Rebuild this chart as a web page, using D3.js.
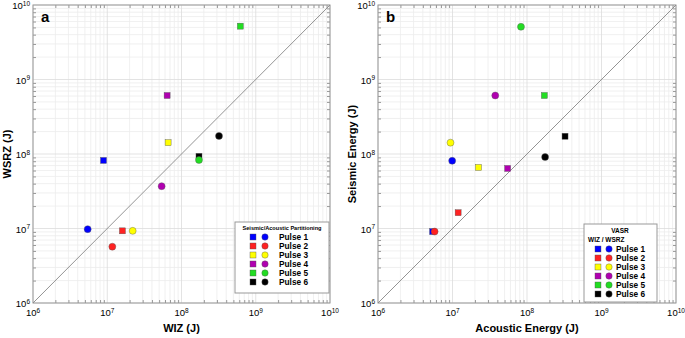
<!DOCTYPE html>
<html>
<head>
<meta charset="utf-8">
<script src="https://cdn.jsdelivr.net/npm/d3@7"></script>
<style>
  body { margin: 0; background: #fff; }
  text { font-family: Arial, "Liberation Sans", sans-serif; }
</style>
</head>
<body>
<div id="root"></div>
<script>
// data
const pulses = ["Pulse 1", "Pulse 2", "Pulse 3", "Pulse 4", "Pulse 5", "Pulse 6"];
const colors = ["#0000ff", "#ff2222", "#ffff00", "#b000b0", "#22dd22", "#000000"];
const tickValues = [1e6, 1e7, 1e8, 1e9, 1e10];

// panel a: squares / circles  (WIZ, WSRZ)
const aSquareX = [8.9e6, 1.6e7, 6.6e7, 6.4e7, 6.2e8, 1.72e8];
const aSquareY = [8.2e7, 9.3e6, 1.42e8, 6.1e8, 5.2e9, 9.3e7];
const aCircleX = [5.45e6, 1.17e7, 2.2e7, 5.4e7, 1.72e8, 3.2e8];
const aCircleY = [9.8e6, 5.7e6, 9.3e6, 3.7e7, 8.3e7, 1.75e8];

// panel b: squares / circles  (acoustic, seismic)
const bSquareX = [5.4e6, 1.19e7, 2.23e7, 5.5e7, 1.71e8, 3.24e8];
const bSquareY = [9.1e6, 1.63e7, 6.6e7, 6.4e7, 6.1e8, 1.73e8];
const bCircleX = [9.9e6, 5.75e6, 9.4e6, 3.75e7, 8.3e7, 1.75e8];
const bCircleY = [8.1e7, 9.1e6, 1.42e8, 6.1e8, 5.1e9, 9.1e7];

let svg = d3.select("#root").append("svg")
  .attr("width", 685).attr("height", 338);

let sup = (sel, v) => {
  let e = Math.round(Math.log10(v));
  sel.append("tspan").text("10");
  sel.append("tspan").attr("font-size", 6.5).attr("dy", -3.5).text(e);
};

let drawPanel = (cfg) => {
  let x = d3.scaleLog().domain([1e6, 1e10]).range([cfg.left, cfg.right]);
  let y = d3.scaleLog().domain([1e6, 1e10]).range([cfg.bottom, cfg.top]);
  let g = svg.append("g");

  // grid
  let minor = [];
  for (let d = 6; d < 10; d++) for (let k = 2; k <= 9; k++) minor.push(k * Math.pow(10, d));
  g.selectAll(".gx").data(minor).join("line")
    .attr("x1", d => x(d)).attr("x2", d => x(d))
    .attr("y1", cfg.top).attr("y2", cfg.bottom)
    .attr("stroke", "#ececec").attr("stroke-width", 0.8);
  g.selectAll(".gy").data(minor).join("line")
    .attr("y1", d => y(d)).attr("y2", d => y(d))
    .attr("x1", cfg.left).attr("x2", cfg.right)
    .attr("stroke", "#ececec").attr("stroke-width", 0.8);
  g.selectAll(".Gx").data(tickValues).join("line")
    .attr("x1", d => x(d)).attr("x2", d => x(d))
    .attr("y1", cfg.top).attr("y2", cfg.bottom)
    .attr("stroke", "#dcdcdc").attr("stroke-width", 0.8);
  g.selectAll(".Gy").data(tickValues).join("line")
    .attr("y1", d => y(d)).attr("y2", d => y(d))
    .attr("x1", cfg.left).attr("x2", cfg.right)
    .attr("stroke", "#dcdcdc").attr("stroke-width", 0.8);

  // axes with inward ticks
  let axB = d3.axisBottom(x).tickValues(minor).tickSize(-3).tickFormat("");
  let axL = d3.axisLeft(y).tickValues(minor).tickSize(-3).tickFormat("");
  let axT = d3.axisTop(x).tickValues(minor).tickSize(-3).tickFormat("");
  let axR = d3.axisRight(y).tickValues(minor).tickSize(-3).tickFormat("");
  let gb = g.append("g").attr("transform", `translate(0,${cfg.bottom})`).call(axB);
  let gl = g.append("g").attr("transform", `translate(${cfg.left},0)`).call(axL);
  let gt = g.append("g").attr("transform", `translate(0,${cfg.top})`).call(axT);
  let gr = g.append("g").attr("transform", `translate(${cfg.right},0)`).call(axR);
  [gb, gl, gt, gr].forEach(a => {
    a.selectAll("path").remove();
    a.selectAll("line").attr("stroke", "#999");
  });
  g.append("rect")
    .attr("x", cfg.left).attr("y", cfg.top)
    .attr("width", cfg.right - cfg.left).attr("height", cfg.bottom - cfg.top)
    .attr("fill", "none").attr("stroke", "#999").attr("stroke-width", 1);

  // tick labels
  tickValues.forEach(v => {
    let t = g.append("text").attr("x", x(v)).attr("y", cfg.bottom + 13)
      .attr("text-anchor", "middle").attr("font-size", 9.5);
    sup(t, v);
    let t2 = g.append("text").attr("x", cfg.left - 3).attr("y", y(v) + 4)
      .attr("text-anchor", "end").attr("font-size", 9.5);
    sup(t2, v);
  });

  // 1:1 line
  g.append("line")
    .attr("x1", x(1e6)).attr("y1", y(1e6))
    .attr("x2", x(1e10)).attr("y2", y(1e10))
    .attr("stroke", "#888").attr("stroke-width", 0.9);

  // axis labels
  g.append("text").attr("x", (cfg.left + cfg.right) / 2).attr("y", cfg.bottom + 29)
    .attr("text-anchor", "middle").attr("font-size", 11).attr("font-weight", "bold")
    .text(cfg.xLabel);
  g.append("text")
    .attr("transform", `translate(${cfg.left - 22},${(cfg.top + cfg.bottom) / 2}) rotate(-90)`)
    .attr("text-anchor", "middle").attr("font-size", 11).attr("font-weight", "bold")
    .text(cfg.yLabel);
  g.append("text").attr("x", cfg.left + 8).attr("y", cfg.top + 17)
    .attr("font-size", 15).attr("font-weight", "bold").text(cfg.letter);

  // markers
  let sq = pulses.map((p, i) => ({ x: cfg.sx[i], y: cfg.sy[i], c: colors[i] }));
  let ci = pulses.map((p, i) => ({ x: cfg.cx[i], y: cfg.cy[i], c: colors[i] }));
  g.selectAll(".sq").data(sq).join("rect")
    .attr("x", d => x(d.x) - 3).attr("y", d => y(d.y) - 3)
    .attr("width", 6).attr("height", 6)
    .attr("fill", d => d.c).attr("stroke", "#555").attr("stroke-width", 0.4);
  g.selectAll(".ci").data(ci).join("circle")
    .attr("cx", d => x(d.x)).attr("cy", d => y(d.y)).attr("r", 3.5)
    .attr("fill", d => d.c).attr("stroke", "#555").attr("stroke-width", 0.4);

  // legend
  let L = cfg.legend;
  g.append("rect").attr("x", L.x).attr("y", L.y).attr("width", L.w).attr("height", L.h)
    .attr("fill", "#fff").attr("stroke", "#999").attr("stroke-width", 1);
  L.titles.forEach(t => {
    g.append("text").attr("x", t.x).attr("y", t.y).attr("text-anchor", t.anchor)
      .attr("font-size", t.size).attr("font-weight", "bold").text(t.text);
  });
  pulses.forEach((p, i) => {
    let ry = L.row0 + i * 9;
    g.append("rect").attr("x", L.sqx - 3).attr("y", ry - 3).attr("width", 6).attr("height", 6)
      .attr("fill", colors[i]).attr("stroke", "#555").attr("stroke-width", 0.4);
    g.append("circle").attr("cx", L.cix).attr("cy", ry).attr("r", 3.2)
      .attr("fill", colors[i]).attr("stroke", "#555").attr("stroke-width", 0.4);
    g.append("text").attr("x", L.tx).attr("y", ry + 3)
      .attr("font-size", 8.3).attr("font-weight", "bold").text(p);
  });
};

drawPanel({
  left: 33, right: 330, top: 5, bottom: 303,
  xLabel: "WIZ (J)", yLabel: "WSRZ (J)", letter: "a",
  sx: aSquareX, sy: aSquareY, cx: aCircleX, cy: aCircleY,
  legend: {
    x: 235, y: 222, w: 94, h: 71, sqx: 253, cix: 265, tx: 279, row0: 237,
    titles: [{ x: 282, y: 230, anchor: "middle", size: 5.6, text: "Seismic/Acoustic Partitioning" }]
  }
});

drawPanel({
  left: 378, right: 676, top: 5, bottom: 303,
  xLabel: "Acoustic Energy (J)", yLabel: "Seismic Energy (J)", letter: "b",
  sx: bSquareX, sy: bSquareY, cx: bCircleX, cy: bCircleY,
  legend: {
    x: 584, y: 224, w: 73, h: 78, sqx: 598, cix: 609, tx: 616, row0: 249,
    titles: [
      { x: 620, y: 233, anchor: "middle", size: 6.5, text: "VASR" },
      { x: 588, y: 242, anchor: "start", size: 6.5, text: "WIZ / WSRZ" }
    ]
  }
});
</script>
</body>
</html>
